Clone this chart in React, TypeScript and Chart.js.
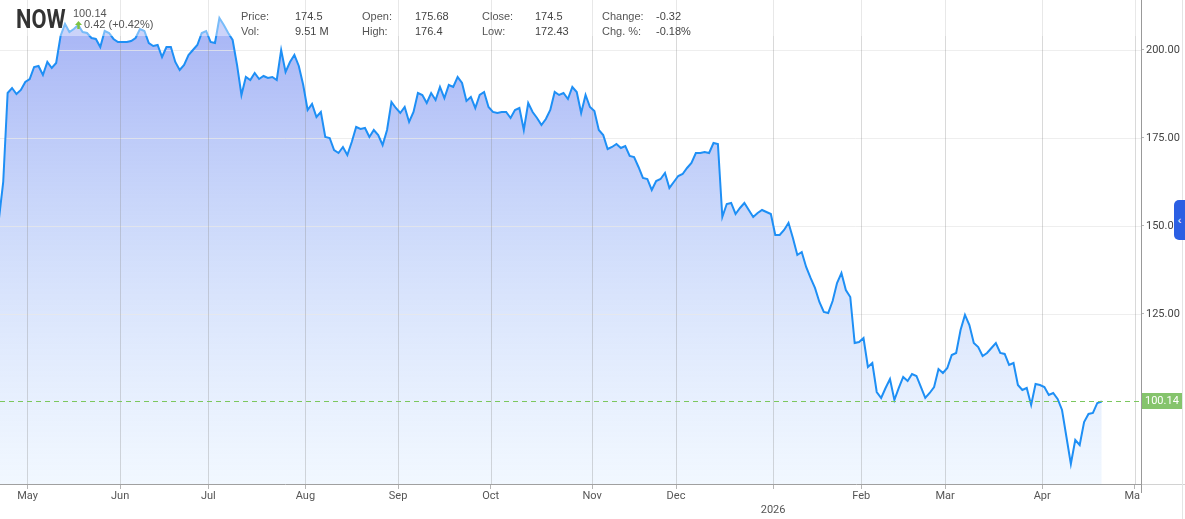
import React, { useEffect, useRef } from 'react';
import { Chart, registerables } from 'chart.js';

Chart.register(...registerables);

// ---------- data ----------
const tickerSymbol = 'NOW';
const lastPrice = 100.14;
const changeText = '0.42 (+0.42%)';
const infoLabelsRow1 = ['Price:', 'Open:', 'Close:', 'Change:'];
const infoValuesRow1 = ['174.5', '175.68', '174.5', '-0.32'];
const infoLabelsRow2 = ['Vol:', 'High:', 'Low:', 'Chg. %:'];
const infoValuesRow2 = ['9.51 M', '176.4', '172.43', '-0.18%'];

// month tick labels and the trading-day index at which each month starts
const monthLabels: (string | string[])[] = ['May', 'Jun', 'Jul', 'Aug', 'Sep', 'Oct', 'Nov', 'Dec', ['', '2026'], 'Feb', 'Mar', 'Apr', 'May'];
const monthStartIndex = [7, 28, 48, 70, 91, 112, 135, 154, 176, 196, 215, 237, 258];
const yTickValues = [125, 150, 175, 200];

// daily closes, one per trading day (Apr 22 2025 -> Apr 21 2026)
const priceValues = [
  151.70, 162.50, 187.78, 189.20, 187.50, 188.64, 190.91, 191.76, 195.17, 195.45,
  192.90, 196.59, 194.89, 196.31, 203.98, 207.39, 205.11, 205.97, 207.10, 205.11,
  204.83, 203.41, 203.13, 200.85, 205.40, 204.83, 203.13, 202.27, 202.27, 202.27,
  202.56, 203.41, 205.97, 205.40, 201.99, 201.14, 201.42, 198.01, 200.85, 200.85,
  196.59, 194.32, 195.74, 198.58, 200.00, 201.42, 204.83, 205.40, 202.27, 201.99,
  209.09, 207.10, 204.83, 202.84, 195.74, 187.22, 192.33, 191.48, 193.47, 191.76,
  192.61, 192.05, 192.33, 191.48, 200.00, 193.75, 196.59, 198.58, 195.45, 190.06,
  182.95, 184.66, 180.97, 182.39, 175.28, 175.00, 171.59, 170.74, 172.44, 170.17,
  173.86, 178.12, 177.56, 177.84, 175.28, 177.27, 175.85, 173.01, 177.27, 185.23,
  183.52, 182.10, 183.81, 179.55, 182.39, 187.78, 187.22, 184.94, 187.78, 185.80,
  189.49, 186.36, 190.06, 189.49, 192.33, 190.62, 185.51, 186.65, 183.52, 187.22,
  188.07, 183.81, 182.39, 182.10, 182.39, 182.39, 180.68, 182.95, 183.52, 177.27,
  184.94, 182.39, 180.68, 178.69, 180.40, 182.95, 188.07, 187.22, 187.78, 186.08,
  189.49, 188.07, 182.10, 187.22, 183.81, 182.67, 177.27, 175.85, 171.87, 172.44,
  173.30, 172.16, 172.73, 169.89, 169.60, 166.76, 163.64, 163.35, 160.23, 162.78,
  163.35, 165.06, 160.80, 162.50, 164.20, 164.77, 166.48, 167.90, 170.74, 170.74,
  171.02, 170.74, 173.58, 173.30, 152.56, 156.25, 156.53, 153.41, 155.11, 156.53,
  154.55, 152.56, 153.69, 154.55, 153.98, 153.41, 147.44, 147.44, 148.86, 150.85,
  146.59, 141.76, 142.61, 138.35, 135.23, 132.39, 128.41, 125.57, 125.28, 128.69,
  133.81, 136.65, 131.82, 129.83, 116.76, 117.05, 118.18, 109.94, 111.08, 102.84,
  101.14, 103.98, 106.53, 100.57, 103.98, 107.10, 105.97, 107.95, 107.39, 104.26,
  101.14, 102.56, 104.26, 109.37, 108.24, 109.66, 113.35, 113.92, 120.45, 124.72,
  121.87, 116.76, 115.62, 113.07, 113.92, 115.34, 116.76, 113.92, 113.64, 110.51,
  111.08, 104.83, 103.41, 103.98, 99.15, 105.11, 104.83, 104.26, 101.99, 102.56,
  100.85, 97.73, 90.06, 82.39, 89.20, 87.78, 94.32, 96.59, 96.87, 99.72,
  100.14,
];

// ---------- layout ----------
const W = 1185;
const H = 519;
const axisFont = 'Roboto, "Liberation Sans", Arial, sans-serif';
const headerFont = '"Liberation Sans", Arial, Helvetica, sans-serif';
const infoLabelLeft = [241, 362, 482, 602];
const infoValueLeft = [295, 415, 535, 656];

export default function App() {
  const canvasRef = useRef<HTMLCanvasElement>(null);

  useEffect(() => {
    const canvas = canvasRef.current;
    if (!canvas) return;
    const points = priceValues.map((v, i) => ({ x: i, y: v }));

    const gridPlugin = {
      id: 'gridOverFill',
      beforeDatasetDraw(chart: any) {
        const { ctx, chartArea: a, scales } = chart;
        ctx.save();
        ctx.lineWidth = 1;
        ctx.strokeStyle = 'rgba(232,232,232,0.75)';
        yTickValues.forEach((v) => {
          const y = Math.round(scales.y.getPixelForValue(v)) + 0.5;
          ctx.beginPath();
          ctx.moveTo(a.left, y);
          ctx.lineTo(a.right, y);
          ctx.stroke();
        });
        ctx.strokeStyle = 'rgba(140,140,140,0.33)';
        monthStartIndex.forEach((m) => {
          const x = Math.round(scales.x.getPixelForValue(m - 0.5)) + 0.5;
          if (x < a.left || x > a.right) return;
          ctx.beginPath();
          ctx.moveTo(x, a.top);
          ctx.lineTo(x, a.bottom);
          ctx.stroke();
        });
        ctx.restore();
      },
    };

    const overlayPlugin = {
      id: 'overlayExtras',
      afterDraw(chart: any) {
        const { ctx, chartArea: a, scales } = chart;
        const y = scales.y.getPixelForValue(lastPrice);
        ctx.save();
        // translucent header band
        ctx.fillStyle = 'rgba(255,255,255,0.4)';
        ctx.fillRect(a.left, 0, a.right - a.left, 36);
        // last price dashed line
        ctx.strokeStyle = '#7cc75e';
        ctx.lineWidth = 1;
        ctx.setLineDash([5, 4]);
        ctx.beginPath();
        ctx.moveTo(a.left, Math.round(y) + 0.5);
        ctx.lineTo(a.right, Math.round(y) + 0.5);
        ctx.stroke();
        ctx.setLineDash([]);
        // clip overflowing last month label
        ctx.fillStyle = '#fff';
        ctx.fillRect(a.right - 1, a.bottom + 1, chart.width - a.right + 1, chart.height - a.bottom);
        ctx.strokeStyle = '#d2d2d2';
        ctx.beginPath();
        ctx.moveTo(a.right, a.bottom + 0.5);
        ctx.lineTo(chart.width, a.bottom + 0.5);
        ctx.stroke();
        ctx.strokeStyle = '#999';
        ctx.beginPath();
        ctx.moveTo(a.right + 0.5, a.bottom);
        ctx.lineTo(a.right + 0.5, a.bottom + 9);
        ctx.stroke();
        // last price label box
        ctx.fillStyle = '#85c46c';
        ctx.fillRect(a.right + 1, Math.round(y) - 8, 41, 16);
        ctx.fillStyle = '#fff';
        ctx.font = '11px ' + axisFont;
        ctx.textBaseline = 'middle';
        ctx.textAlign = 'left';
        ctx.fillText(lastPrice.toFixed(2), a.right + 4, Math.round(y) + 0.5);
        ctx.restore();
      },
    };

    const chart = new Chart(canvas, {
      type: 'line',
      data: {
        datasets: [
          {
            data: points,
            borderColor: '#1e8ff5',
            borderWidth: 2,
            pointRadius: 0,
            tension: 0,
            fill: 'start',
            backgroundColor: (c: any) => {
              const area = c.chart.chartArea;
              if (!area) return 'rgba(150,170,245,0.5)';
              const g = c.chart.ctx.createLinearGradient(0, area.top, 0, area.bottom);
              g.addColorStop(0, 'rgba(118,138,240,0.68)');
              g.addColorStop(0.5, 'rgba(150,178,246,0.45)');
              g.addColorStop(1, 'rgba(205,228,255,0.28)');
              return g;
            },
          },
        ],
      },
      options: {
        responsive: false,
        animation: false,
        parsing: false as any,
        normalized: true,
        layout: { padding: 0 },
        plugins: { legend: { display: false }, tooltip: { enabled: false } },
        scales: {
          x: {
            type: 'linear',
            min: 0.27,
            max: 258.9,
            bounds: 'data',
            afterBuildTicks: (s: any) => {
              s.ticks = monthStartIndex.map((m) => ({ value: m - 0.5 }));
            },
            afterFit: (s: any) => {
              s.height = 35;
              s.paddingLeft = 0;
              s.paddingRight = 0;
            },
            grid: { drawOnChartArea: false, drawTicks: true, tickLength: 5, tickColor: '#b5b5b5' },
            border: { color: '#a0a0a0', width: 1 },
            ticks: {
              autoSkip: false,
              maxRotation: 0,
              padding: 1,
              color: '#555',
              font: { family: axisFont, size: 11 },
              callback: (_v: any, i: number) => monthLabels[i],
            },
          },
          y: {
            type: 'linear',
            position: 'right',
            min: 76.7,
            max: 214.2,
            afterBuildTicks: (s: any) => {
              s.ticks = yTickValues.map((v) => ({ value: v }));
            },
            afterFit: (s: any) => {
              s.width = 44;
              s.paddingTop = 0;
              s.paddingBottom = 0;
            },
            grid: { drawOnChartArea: false, drawTicks: true, tickLength: 3, tickColor: '#b5b5b5' },
            border: { color: '#999', width: 1 },
            ticks: {
              padding: 2,
              color: '#444',
              font: { family: axisFont, size: 11 },
              callback: (v: any) => Number(v).toFixed(2),
            },
          },
        },
      },
      plugins: [gridPlugin, overlayPlugin],
    } as any);

    return () => chart.destroy();
  }, []);

  const small: React.CSSProperties = {
    position: 'absolute',
    fontFamily: headerFont,
    fontSize: 11,
    lineHeight: '13px',
    color: '#555',
    whiteSpace: 'nowrap',
    pointerEvents: 'none',
  };

  return (
    <div style={{ position: 'absolute', left: 0, top: 0, width: W, height: H, background: '#fff', overflow: 'hidden' }}>
      <canvas ref={canvasRef} width={W} height={H} style={{ position: 'absolute', left: 0, top: 0, width: W, height: H }} />
      <div
        style={{
          position: 'absolute',
          left: 16,
          top: 6,
          fontFamily: 'Roboto, "Liberation Sans", sans-serif',
          fontWeight: 700,
          fontSize: 26,
          lineHeight: '26px',
          color: '#333',
          transform: 'scaleX(0.84)',
          transformOrigin: 'left top',
          whiteSpace: 'nowrap',
          pointerEvents: 'none',
        }}
      >
        {tickerSymbol}
      </div>
      <div style={{ ...small, left: 73, top: 7 }}>{lastPrice.toFixed(2)}</div>
      <svg style={{ position: 'absolute', left: 75, top: 21 }} width={7} height={8} viewBox="0 0 7 8">
        <polygon points="3.5,0 7,4 4.7,4 4.7,8 2.3,8 2.3,4 0,4" fill="#7cc242" />
      </svg>
      <div style={{ ...small, left: 84, top: 18 }}>{changeText}</div>
      {infoLabelsRow1.map((t, i) => (
        <div key={'l1' + i} style={{ ...small, left: infoLabelLeft[i], top: 10 }}>{t}</div>
      ))}
      {infoValuesRow1.map((t, i) => (
        <div key={'v1' + i} style={{ ...small, left: infoValueLeft[i], top: 10, color: '#444' }}>{t}</div>
      ))}
      {infoLabelsRow2.map((t, i) => (
        <div key={'l2' + i} style={{ ...small, left: infoLabelLeft[i], top: 25 }}>{t}</div>
      ))}
      {infoValuesRow2.map((t, i) => (
        <div key={'v2' + i} style={{ ...small, left: infoValueLeft[i], top: 25, color: '#444' }}>{t}</div>
      ))}
      <div style={{ position: 'absolute', left: 1182, top: 0, width: 1, height: H, background: '#e4e4e4' }} />
      <div
        style={{
          position: 'absolute',
          left: 1174,
          top: 200,
          width: 11,
          height: 40,
          background: '#2b5fe3',
          borderRadius: '5px 0 0 5px',
          color: '#fff',
          fontFamily: headerFont,
          fontSize: 11,
          lineHeight: '40px',
          textAlign: 'center',
        }}
      >
        ‹
      </div>
    </div>
  );
}
